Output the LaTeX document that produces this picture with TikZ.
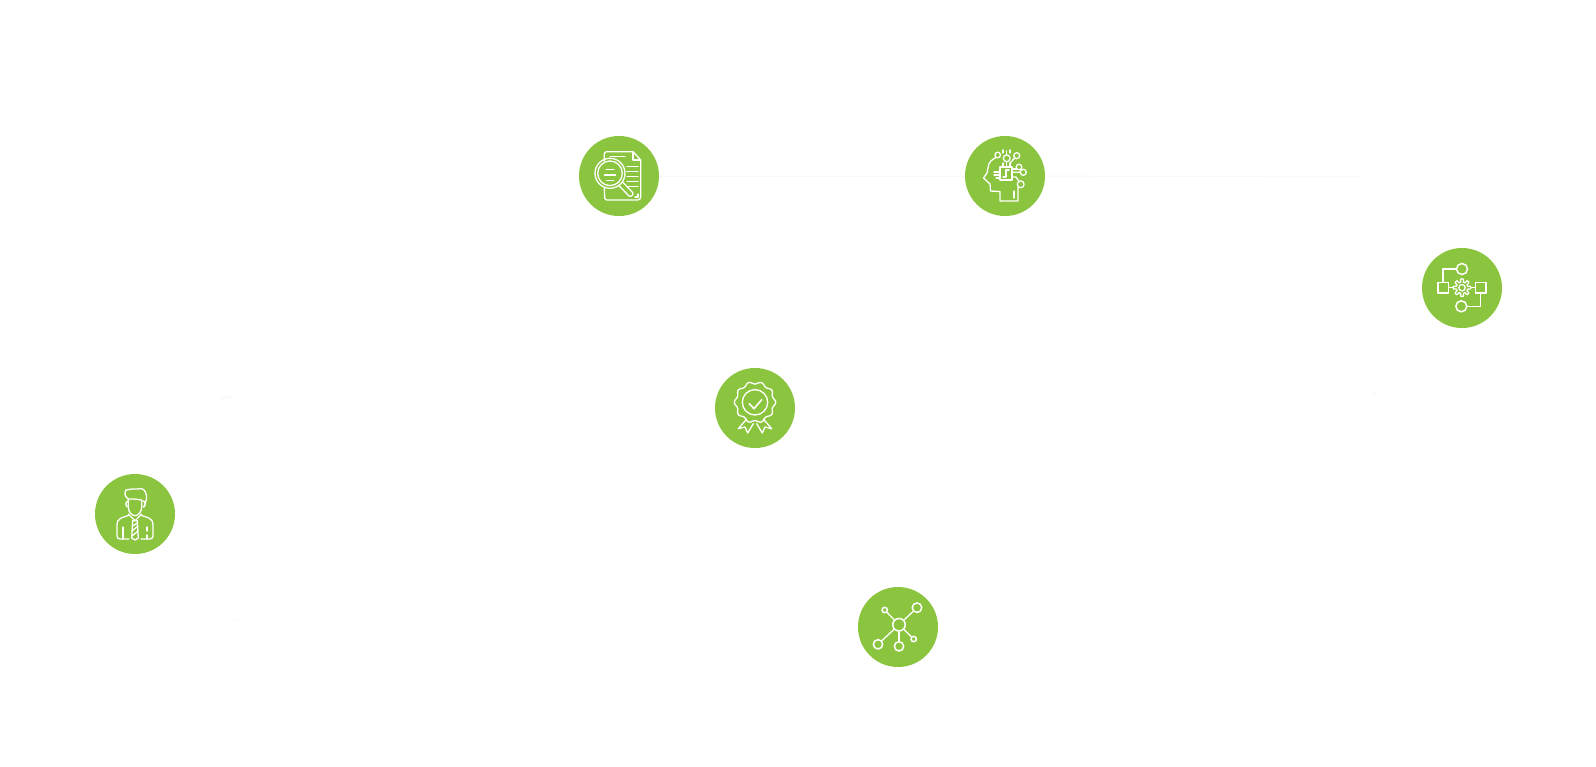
\documentclass[tikz,border=0pt]{standalone}
\usepackage{tikz}
\usetikzlibrary{calc}
\usepackage{xcolor}
\definecolor{hubgreen}{RGB}{139,197,63}
\definecolor{faintline}{RGB}{248,248,246}
\tikzstyle{hub} = [circle,fill=hubgreen,minimum size=80pt,inner sep=0pt]
\tikzstyle{glyph} = [draw=white,line width=1.3pt,line join=round,line cap=round]
\tikzstyle{dot} = [circle,draw=white,line width=1.5pt,inner sep=0pt]
\tikzstyle{trail} = [draw=faintline,line width=1pt]
\begin{document}
\begin{tikzpicture}[x=1pt,y=-1pt]
    \useasboundingbox[fill=white] (0,0) rectangle (1596,766);

    \node[hub] (report) at (619,176) {};
    \node[hub] (brain) at (1005,176) {};
    \node[hub] (workflow) at (1462,288) {};
    \node[hub] (badge) at (755,408) {};
    \node[hub] (person) at (135,514) {};
    \node[hub] (network) at (898,627) {};

    \coordinate (brainend) at (1361,177);
    \draw[trail] (report) -- (brain);
    \draw[trail] (brain) -- (brainend);
    \draw[trail] (1366,169) -- (1370,170);
    \draw[trail] (1372,395) -- (1378,391);
    \draw[trail] (221,399) -- (234,395);
    \draw[trail] (236,620) -- (242,620);

    % report
    \begin{scope}[shift={(report.center)}]
        \draw[glyph] (-14.7,-15) -- (-14.7,-22) arc (180:270:2.3) -- (14,-24.3) -- (21.7,-16) -- (21.7,21) arc (0:90:3) -- (-12,24) arc (90:180:2.3) -- (-14.7,12);
        \draw[glyph] (14,-24.3) -- (14,-16) -- (21.7,-16);
        \draw[glyph] (-9,-2.7) circle (15) (-9,-2.7) circle (12.3);
        \draw[glyph,rounded corners=2pt] (3.8,6.2) -- (14.8,17.7) -- (11.2,21.3) -- (0.2,9.8);
        \draw[glyph] (-9,-19.5) -- (6,-19.5);
        \foreach \y in {-9.5,-4.5,0.5,5.5,10.5}
            \draw[glyph] (8,\y) -- (19,\y);
        \foreach \y/\w in {-6.5/4,-1/5.5,4.5/3.5}
            \draw[glyph] (-9-\w,\y) -- (-9+\w,\y);
        \draw[glyph] (16,21) -- (19,21) -- (19,18);
    \end{scope}

    % brain
    \begin{scope}[shift={(brain.center)}]
        \draw[glyph] (-9,-18.5) .. controls (-12,-17) and (-17,-14) .. (-17,-8) -- (-18,-3) -- (-21.5,2) -- (-15,8) -- (-14.5,15) -- (-5,15.5) -- (-5,25) -- (13,25) -- (13,11);
        \draw[glyph] (-7.3,-21) circle (2.8);
        \draw[glyph] (-5,-9) rectangle (7,4);
        \draw[glyph] (-2,1) -- (1,1) -- (1,-6) -- (4,-6);
        \draw[glyph] (1.7,-17.7) circle (3.4) (11.7,-20.3) circle (3) (14,-9) circle (2.8) (18.3,-3.7) circle (3) (15.7,8.3) circle (3.4);
        \draw[glyph] (1.7,-14.3) -- (1.7,-9) (-2,-13) -- (-2,-9) (5,-13) -- (5,-9);
        \draw[glyph] (9.8,-18) -- (5,-13) (15.3,-3.7) -- (7,-3.7) (7,1) -- (11,1) -- (14,5.5);
        \draw[glyph] (7,-7) -- (12,-7);
        \draw[glyph] (-5,-4) -- (-11,-4) (-5,-1) -- (-11,-1) (-5,2) -- (-9,2);
        \draw[glyph] (1.7,-21) -- (1.7,-25) (-2,-26) -- (-2,-23) (5,-26) -- (5,-23);
        \draw[glyph] (9,15) -- (9,22);
    \end{scope}

    % workflow
    \begin{scope}[shift={(workflow.center)}]
        \draw[glyph] (-24,-5.7) rectangle (-13.3,5);
        \draw[glyph] (13.3,-5.7) rectangle (24,5);
        \node[dot,minimum size=11pt] (flowtop) at (0,-19) {};
        \node[dot,minimum size=11pt] (flowbottom) at (-0.7,18.3) {};
        \draw[glyph] (-19,-5.7) -- (-19,-19) -- (flowtop);
        \draw[glyph] (18.3,5) -- (18.3,18.3) -- (flowbottom);
        \draw[glyph] (-13.3,-0.3) -- (-8.5,-0.3) (8.5,-0.3) -- (13.3,-0.3);
        \draw[glyph] plot[domain=0:360,samples=145] ({(7.2+1.5*max(min(3*cos(8*\x),1),-1))*cos(\x)},{-0.3+(7.2+1.5*max(min(3*cos(8*\x),1),-1))*sin(\x)}) -- cycle;
        \draw[glyph] (0,-0.3) circle (3.2);
    \end{scope}

    % badge
    \begin{scope}[shift={(badge.center)}]
        \draw[glyph] plot[domain=0:360,samples=121,smooth] ({(19.5+1.2*cos(10*\x))*cos(\x)},{-5.7+(19.5+1.2*cos(10*\x))*sin(\x)}) -- cycle;
        \draw[glyph] (0,-5.7) circle (12.7);
        \draw[glyph,line width=1.6pt] (-5.7,-4.3) -- (-1,0.7) -- (6.7,-8.3);
        \draw[glyph] (-8.3,11) -- (-16.7,20.7) -- (-10,19) -- (-7.3,25) -- (-1.7,15.7);
        \draw[glyph] (8.3,11) -- (16.7,20.7) -- (10,19) -- (7.3,25) -- (1.7,15.7);
    \end{scope}

    % person
    \begin{scope}[shift={(person.center)}]
        \draw[glyph] (-6.7,-15) .. controls (-10,-17) and (-11,-21) .. (-9,-24) .. controls (-5,-26) and (-3,-24) .. (6,-25.5) .. controls (10,-25) and (12,-20) .. (11.5,-15) -- (9,-7);
        \draw[glyph] (-6.7,-15) -- (-6.7,-7) .. controls (-6.7,-2) and (-3,1.7) .. (0,1.7) .. controls (3,1.7) and (6.7,-2) .. (6.7,-7) -- (6.7,-14) -- (-1,-15) -- (-6.7,-15);
        \draw[glyph] (-6.7,-13) .. controls (-10,-13) and (-10,-7) .. (-6.7,-7);
        \draw[glyph] (8,-13) .. controls (11,-13) and (11,-7) .. (8,-7);
        \draw[glyph] (-6.7,0) -- (0,6.7) -- (6.7,0);
        \draw[glyph] (-2.3,6.7) -- (2.3,6.7) -- (3.3,24) -- (0,26) -- (-3.3,24) -- cycle;
        \draw[glyph] (-2.5,12) -- (2.5,9) (-3,17) -- (3,12) (-3,22) -- (3,17);
        \draw[glyph] (-6.7,1.5) -- (-14,4) .. controls (-17,5) and (-18,8) .. (-18,12) -- (-18,22) arc (180:90:3) -- (-6,25);
        \draw[glyph] (6.7,1.5) -- (14,4) .. controls (17,5) and (18,8) .. (18,12) -- (18,22) arc (0:90:3) -- (6,25);
        \draw[glyph] (-12,13) -- (-12,25) (12,13) -- (12,17) (12,21) -- (12,25);
    \end{scope}

    % network
    \begin{scope}[shift={(network.center)}]
        \node[dot,minimum size=12.5pt] (center) at (1,-2.3) {};
        \node[dot,minimum size=9.5pt] (topright) at (19,-19.3) {};
        \node[dot,minimum size=5.3pt] (topleft) at (-13.3,-17) {};
        \node[dot,minimum size=9.3pt] (bottomleft) at (-20,17.3) {};
        \node[dot,minimum size=9.3pt] (bottommid) at (1,19.3) {};
        \node[dot,minimum size=5.3pt] (bottomright) at (15.7,12) {};
        \foreach \tip in {topright,topleft,bottomleft,bottommid,bottomright}
            \draw[glyph] (center) -- (\tip);
    \end{scope}
\end{tikzpicture}
\end{document}
